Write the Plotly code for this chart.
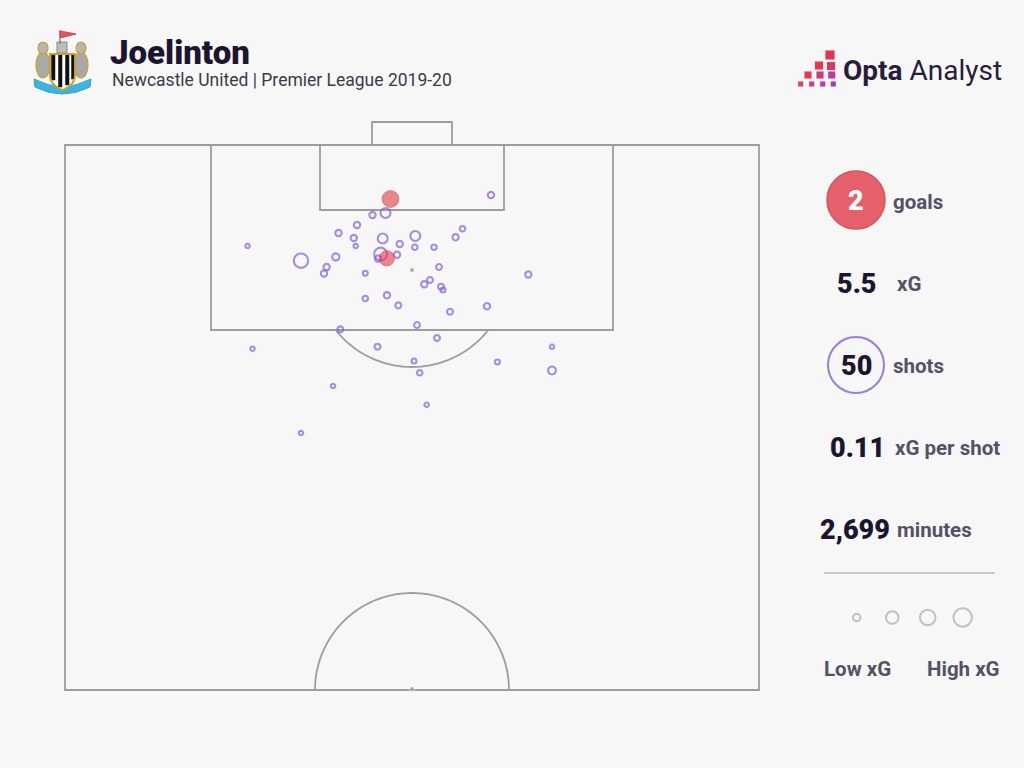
import numpy as np
import plotly.graph_objects as go

# ---------------- data ----------------
player = "Joelinton"
subtitle = "Newcastle United | Premier League 2019-20"

# shot locations in pitch units (x: across from left touchline, y: out from goal line)
shot_x = [42.6, 32.05, 30.75, 29.2, 27.35, 28.88, 29.07, 31.77, 35.03, 33.47,
          34.98, 36.9, 39.06, 39.75, 18.26, 23.6, 27.08, 26.16, 25.9, 31.56,
          31.3, 33.2, 30.03, 37.4, 46.33, 36.5, 35.93, 37.6, 37.8, 30.03,
          32.2, 33.33, 38.5, 42.2, 35.2, 27.53, 37.2, 31.25, 18.75, 48.7,
          34.9, 43.24, 48.7, 35.47, 26.8, 36.17, 23.6]
shot_y = [5.0, 6.8, 7.0, 8.0, 8.8, 9.3, 10.1, 9.35, 9.1, 9.9,
          10.23, 10.23, 9.23, 8.37, 10.1, 11.57, 11.2, 12.2, 12.85, 10.9,
          11.35, 10.97, 12.83, 12.2, 12.95, 13.5, 13.93, 14.17, 14.5, 15.35,
          15.03, 16.03, 16.67, 16.12, 18.0, 18.43, 19.3, 20.17, 20.38, 20.17,
          21.6, 21.7, 22.55, 22.77, 24.1, 25.97, 28.8]
shot_xg = [0.07, 0.2, 0.07, 0.07, 0.07, 0.07, 0.03, 0.2, 0.2, 0.07,
           0.05, 0.05, 0.07, 0.05, 0.03, 0.45, 0.1, 0.07, 0.07, 0.35,
           0.07, 0.07, 0.04, 0.06, 0.07, 0.06, 0.07, 0.06, 0.04, 0.05,
           0.07, 0.06, 0.06, 0.07, 0.06, 0.06, 0.06, 0.06, 0.03, 0.03,
           0.04, 0.04, 0.12, 0.05, 0.03, 0.03, 0.03]
goal_x = [32.55, 32.18]
goal_y = [5.4, 11.33]
goal_xg = [0.62, 0.5]

stat_values = ["2", "5.5", "50", "0.11", "2,699"]
stat_labels = ["goals", "xG", "shots", "xG per shot", "minutes"]
legend_labels = ["Low xG", "High xG"]

# ---------------- styling / geometry ----------------
BG = "#f7f7f7"
LINE = "#9d9d9d"
PURPLE = "#8660d8"
DARK = "#1b1530"
LABEL = "#555166"

PITCH_W, HALF_L = 69.4, 54.5
BOX_X0, BOX_X1, BOX_D = 14.6, 54.8, 18.5
SIX_X0, SIX_X1, SIX_D = 25.5, 43.9, 6.5
GOAL_X0, GOAL_X1, GOAL_D = 30.7, 38.7, 2.3
SPOT = (34.7, 12.5)
ARC_R = 9.7


def X(px):  # canvas pixel -> axis units
    return px / 10.0 - 6.5


def Y(py):
    return py / 10.0 - 14.5


def size_of(xg):
    return 1.0 + 20.0 * np.sqrt(np.asarray(xg))


shapes = []


def rect(x0, y0, x1, y1, color=LINE, width=1.8, fill="rgba(0,0,0,0)"):
    shapes.append(dict(type="rect", x0=x0, y0=y0, x1=x1, y1=y1, xref="x", yref="y",
                       line=dict(color=color, width=width), fillcolor=fill, layer="below"))


def path(d, color=LINE, width=1.8, fill="rgba(0,0,0,0)", layer="below"):
    shapes.append(dict(type="path", path=d, xref="x", yref="y",
                       line=dict(color=color, width=width), fillcolor=fill, layer=layer))


def poly(pts, close=False):
    d = "M " + " L ".join(f"{a:.3f},{b:.3f}" for a, b in pts)
    return d + (" Z" if close else "")


# pitch
rect(0, 0, PITCH_W, HALF_L)
rect(BOX_X0, 0, BOX_X1, BOX_D)
rect(SIX_X0, 0, SIX_X1, SIX_D)
rect(GOAL_X0, -GOAL_D, GOAL_X1, 0)
# penalty arc
a0 = np.arcsin((BOX_D - SPOT[1]) / ARC_R)
ang = np.linspace(a0, np.pi - a0, 80)
path(poly([(SPOT[0] + ARC_R * np.cos(t), SPOT[1] + ARC_R * np.sin(t)) for t in ang]))
# centre circle (half)
ang2 = np.linspace(np.pi, 2 * np.pi, 100)
path(poly([(SPOT[0] + ARC_R * np.cos(t), HALF_L + ARC_R * np.sin(t)) for t in ang2]))

# stats panel shapes
shapes.append(dict(type="circle", xref="x", yref="y", x0=X(827), x1=X(885), y0=Y(171), y1=Y(229),
                   fillcolor="#e4606b", line=dict(color="#d9505c", width=1.5)))
shapes.append(dict(type="circle", xref="x", yref="y", x0=X(828), x1=X(884), y0=Y(337), y1=Y(393),
                   fillcolor="rgba(0,0,0,0)", line=dict(color="#9b7be0", width=2)))
shapes.append(dict(type="line", xref="x", yref="y", x0=X(824), x1=X(995), y0=Y(573), y1=Y(573),
                   line=dict(color="#cbcbcb", width=2)))

# ---- crest (simplified) ----
path(f"M {X(34)},{Y(79)} Q {X(62)},{Y(94)} {X(91)},{Y(79)} L {X(90)},{Y(87)} "
     f"Q {X(62)},{Y(101)} {X(35)},{Y(87)} Z", color="#2fa3cf", width=1, fill="#3db4df", layer="above")
for cx in (43, 81):
    shapes.append(dict(type="circle", xref="x", yref="y", x0=X(cx - 7), x1=X(cx + 7), y0=Y(52), y1=Y(78),
                       fillcolor="#a9a9a9", line=dict(color="#c9a227", width=1.2)))
    shapes.append(dict(type="circle", xref="x", yref="y", x0=X(cx - 5), x1=X(cx + 5), y0=Y(42), y1=Y(54),
                       fillcolor="#b5b5b5", line=dict(color="#c9a227", width=1.2)))
path(poly([(X(57), Y(42)), (X(67), Y(42)), (X(67), Y(53)), (X(57), Y(53))], True),
     color="#888", width=1, fill="#bdbdbd", layer="above")
path(poly([(X(60), Y(30)), (X(60), Y(44))]), color="#777", width=1.2, layer="above")
path(poly([(X(60), Y(31)), (X(76), Y(34)), (X(60), Y(38))], True), color="#d9444e", width=1,
     fill="#e05560", layer="above")
shield = (f"M {X(50)},{Y(54)} L {X(75)},{Y(54)} L {X(75)},{Y(75)} Q {X(75)},{Y(85)} {X(62.5)},{Y(90)} "
          f"Q {X(50)},{Y(85)} {X(50)},{Y(75)} Z")
path(shield, color="#c9a227", width=0.1, fill="#ffffff", layer="above")
for sx0, sx1, sy1 in ((51.5, 55, 80), (58.5, 62, 87), (65.5, 69, 85), (71.5, 74.5, 79)):
    path(poly([(X(sx0), Y(55)), (X(sx1), Y(55)), (X(sx1), Y(sy1)), (X(sx0), Y(sy1))], True),
         color="#111", width=0.5, fill="#111111", layer="above")
path(shield, color="#c9a227", width=1.8, layer="above")

# ---- Opta logo squares ----
opta_sq = [(830, 55, 9, "#e5344c"), (819, 65.5, 8, "#e6384f"), (831, 66, 8, "#d73868"),
           (808, 75, 7, "#e63a54"), (820, 75, 7, "#d2397a"), (831.7, 75, 7, "#bc3a98"),
           (800.7, 84, 5, "#e63d58"), (811.7, 84, 5, "#cc3b86"), (822.7, 84, 5, "#b23bb0"),
           (833.3, 84, 5, "#9a3cc6")]
for cx, cy, s, c in opta_sq:
    h = s / 2
    path(poly([(X(cx - h), Y(cy - h)), (X(cx + h), Y(cy - h)), (X(cx + h), Y(cy + h)),
               (X(cx - h), Y(cy + h))], True), color=c, width=0.1, fill=c, layer="above")

fig = go.Figure()

# penalty spot & centre spot
fig.add_trace(go.Scatter(x=[SPOT[0], SPOT[0]], y=[SPOT[1], HALF_L - 0.1], mode="markers",
                         marker=dict(color="#8f8f8f", size=[5, 5]), hoverinfo="skip",
                         showlegend=False))
# shots
fig.add_trace(go.Scatter(x=shot_x, y=shot_y, mode="markers",
                         marker=dict(size=size_of(shot_xg), color="rgba(0,0,0,0)",
                                     line=dict(color=PURPLE, width=2.1)),
                         showlegend=False))
# goals
fig.add_trace(go.Scatter(x=goal_x, y=goal_y, mode="markers",
                         marker=dict(size=size_of(goal_xg), color="rgba(228,64,76,0.88)",
                                     line=dict(color="rgba(222,58,70,0.95)", width=1)),
                         showlegend=False))
# size legend
fig.add_trace(go.Scatter(x=[X(856.7), X(892.3), X(927.7), X(962.7)], y=[Y(617.5)] * 4,
                         mode="markers",
                         marker=dict(size=[7.5, 12.5, 15.5, 18.5], color="rgba(0,0,0,0)",
                                     line=dict(color="#ababab", width=2)),
                         hoverinfo="skip", showlegend=False))

ann = []


def text(s, px, py, size, color, anchor="left", weight="bold", family="Roboto"):
    ann.append(dict(text=s, x=X(px), y=Y(py), xref="x", yref="y", showarrow=False,
                    xanchor=anchor, yanchor="middle",
                    font=dict(size=size, color=color, family=family, weight=weight)))


text(player, 108, 52, 33, DARK, weight=900)
text(subtitle, 110, 80, 17.5, "#3b3a4a", weight="normal")
text("<b>Opta</b> Analyst", 841, 70, 28, "#2a1c3c", weight="normal")

# stats
NUM = 27
LAB = 20.5
text(stat_values[0], 856, 201, NUM, "#ffffff", anchor="center", weight=900)
text(stat_labels[0], 891, 202, LAB, LABEL)
text(stat_values[1], 856, 284, NUM, DARK, anchor="center", weight=900)
text(stat_labels[1], 895, 284, LAB, LABEL)
text(stat_values[2], 856, 366, NUM, DARK, anchor="center", weight=900)
text(stat_labels[2], 891, 366, LAB, LABEL)
text(stat_values[3], 857, 448, NUM, DARK, anchor="center", weight=900)
text(stat_labels[3], 893, 448, LAB, LABEL)
text(stat_values[4], 892, 530, NUM, DARK, anchor="right", weight=900)
text(stat_labels[4], 895, 530, LAB, LABEL)
text(legend_labels[0], 857, 669, 20.5, LABEL, anchor="center")
text(legend_labels[1], 963, 669, 20.5, LABEL, anchor="center")

fig.update_layout(
    width=1024, height=768, autosize=False,
    margin=dict(l=0, r=0, t=0, b=0),
    paper_bgcolor=BG, plot_bgcolor=BG,
    xaxis=dict(range=[X(0), X(1024)], visible=False, fixedrange=True),
    yaxis=dict(range=[Y(768), Y(0)], visible=False, fixedrange=True),
    shapes=shapes, annotations=ann, showlegend=False,
)

fig.write_html("out.html", config={"displayModeBar": False},
               post_script="document.body.style.margin='0';document.body.style.overflow='hidden';")
